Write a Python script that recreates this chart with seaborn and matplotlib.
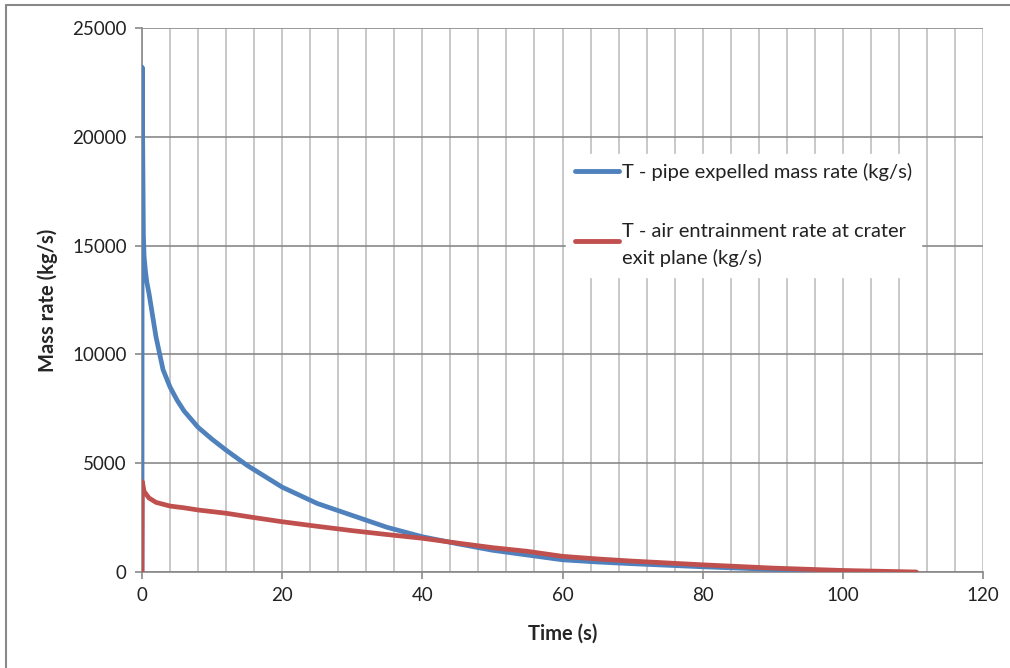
import numpy as np
import pandas as pd
import matplotlib
matplotlib.use("Agg")
import matplotlib.pyplot as plt
import matplotlib.ticker as ticker
from matplotlib.lines import Line2D
from matplotlib.legend_handler import HandlerLine2D
import seaborn as sns

# === DATA ===
t_pipe = [0, 0.02, 0.1, 0.2, 0.3, 0.5, 0.7, 1.0, 1.4, 2, 3, 4, 5, 6, 8, 10, 12, 15,
          20, 25, 30, 35, 40, 45, 50, 55, 60, 65, 70, 80, 90, 100, 105]
m_pipe = [0, 23200, 19700, 15500, 14500, 13800, 13300, 12800, 12000, 10800, 9300, 8500,
          7900, 7400, 6650, 6100, 5600, 4900, 3900, 3150, 2600, 2050, 1620, 1300, 1000,
          780, 560, 460, 380, 240, 120, 40, 0]

t_air = [0, 0.05, 0.3, 1, 2, 4, 6, 8, 12, 16, 20, 25, 30, 35, 40, 45, 50, 55, 60,
         65, 70, 80, 90, 100, 110.5]
m_air = [0, 4150, 3700, 3400, 3200, 3030, 2950, 2850, 2700, 2500, 2310, 2100, 1900,
         1720, 1550, 1330, 1120, 950, 720, 600, 500, 330, 180, 70, 0]

lbl_pipe = "T - pipe expelled mass rate (kg/s)"
lbl_air = "T - air entrainment rate at crater\nexit plane (kg/s)"

BLUE = "#4F81BD"
RED = "#C0504D"


class TopLineHandler(HandlerLine2D):
    # put the legend line next to the first text line of a two-line label
    def create_artists(self, legend, orig_handle, xdescent, ydescent, width,
                       height, fontsize, trans):
        arts = super().create_artists(legend, orig_handle, xdescent, ydescent,
                                      width, height, fontsize, trans)
        for a in arts:
            y = a.get_ydata()
            a.set_ydata(np.asarray(y) + height * 0.29)
        return arts


sns.set_style("white")
plt.rcParams["font.family"] = ["Lato", "DejaVu Sans"]

fig = plt.figure(figsize=(10.1, 6.68), dpi=100)
ax = fig.add_axes([142 / 1010, 1 - 572 / 668, 841 / 1010, 544 / 668])

df_pipe = pd.DataFrame({"t": t_pipe, "m": m_pipe})
df_air = pd.DataFrame({"t": t_air, "m": m_air})
sns.lineplot(data=df_pipe, x="t", y="m", ax=ax, color=BLUE, lw=3.4, sort=False,
             estimator=None, zorder=3)
sns.lineplot(data=df_air, x="t", y="m", ax=ax, color=RED, lw=3.4, sort=False,
             estimator=None, zorder=4)

ax.set_xlim(0, 120)
ax.set_ylim(0, 25000)
ax.xaxis.set_major_locator(ticker.MultipleLocator(20))
ax.xaxis.set_minor_locator(ticker.MultipleLocator(4))
ax.yaxis.set_major_locator(ticker.MultipleLocator(5000))
ax.grid(which="minor", axis="x", color="#BFBFBF", lw=1.2)
ax.grid(which="major", axis="x", color="#BFBFBF", lw=1.2)
ax.grid(which="major", axis="y", color="#898989", lw=1.2)
ax.set_axisbelow(True)

for s in ["top", "right"]:
    ax.spines[s].set_visible(False)
for s in ["left", "bottom"]:
    ax.spines[s].set_color("#898989")
    ax.spines[s].set_linewidth(1.2)

ax.tick_params(axis="both", which="major", direction="out", length=5, width=1.2,
               color="#898989", labelsize=13.5, labelcolor="#222222", pad=6,
               bottom=True, left=True)
ax.tick_params(axis="x", which="minor", length=0)

ax.set_xlabel("Time (s)", fontsize=14.5, fontweight="bold", labelpad=14)
ax.set_ylabel("Mass rate (kg/s)", fontsize=14.5, fontweight="bold", labelpad=10)

h_pipe = Line2D([], [], color=BLUE, lw=3.5, solid_capstyle="round")
h_air = Line2D([], [], color=RED, lw=3.5, solid_capstyle="round")
leg = ax.legend([h_pipe, h_air], [lbl_pipe, lbl_air], loc="upper left",
                bbox_to_anchor=(0.492, 0.787), frameon=True, fancybox=False,
                edgecolor="white", facecolor="white", framealpha=1, fontsize=14.5,
                handlelength=2.2, handletextpad=0.15, labelspacing=2.1,
                borderpad=0.45, handler_map={h_air: TopLineHandler()})
for txt in leg.get_texts():
    txt.set_color("#222222")
    txt.set_linespacing(1.6)

# outer chart border (left and top visible)
fig.add_artist(Line2D([5.5 / 1010, 5.5 / 1010], [0, 1 - 4.5 / 668], color="#898989",
                      lw=1.5, transform=fig.transFigure))
fig.add_artist(Line2D([5.5 / 1010, 1], [1 - 4.5 / 668, 1 - 4.5 / 668], color="#898989",
                      lw=1.5, transform=fig.transFigure))

fig.savefig("out.png", dpi=100)
